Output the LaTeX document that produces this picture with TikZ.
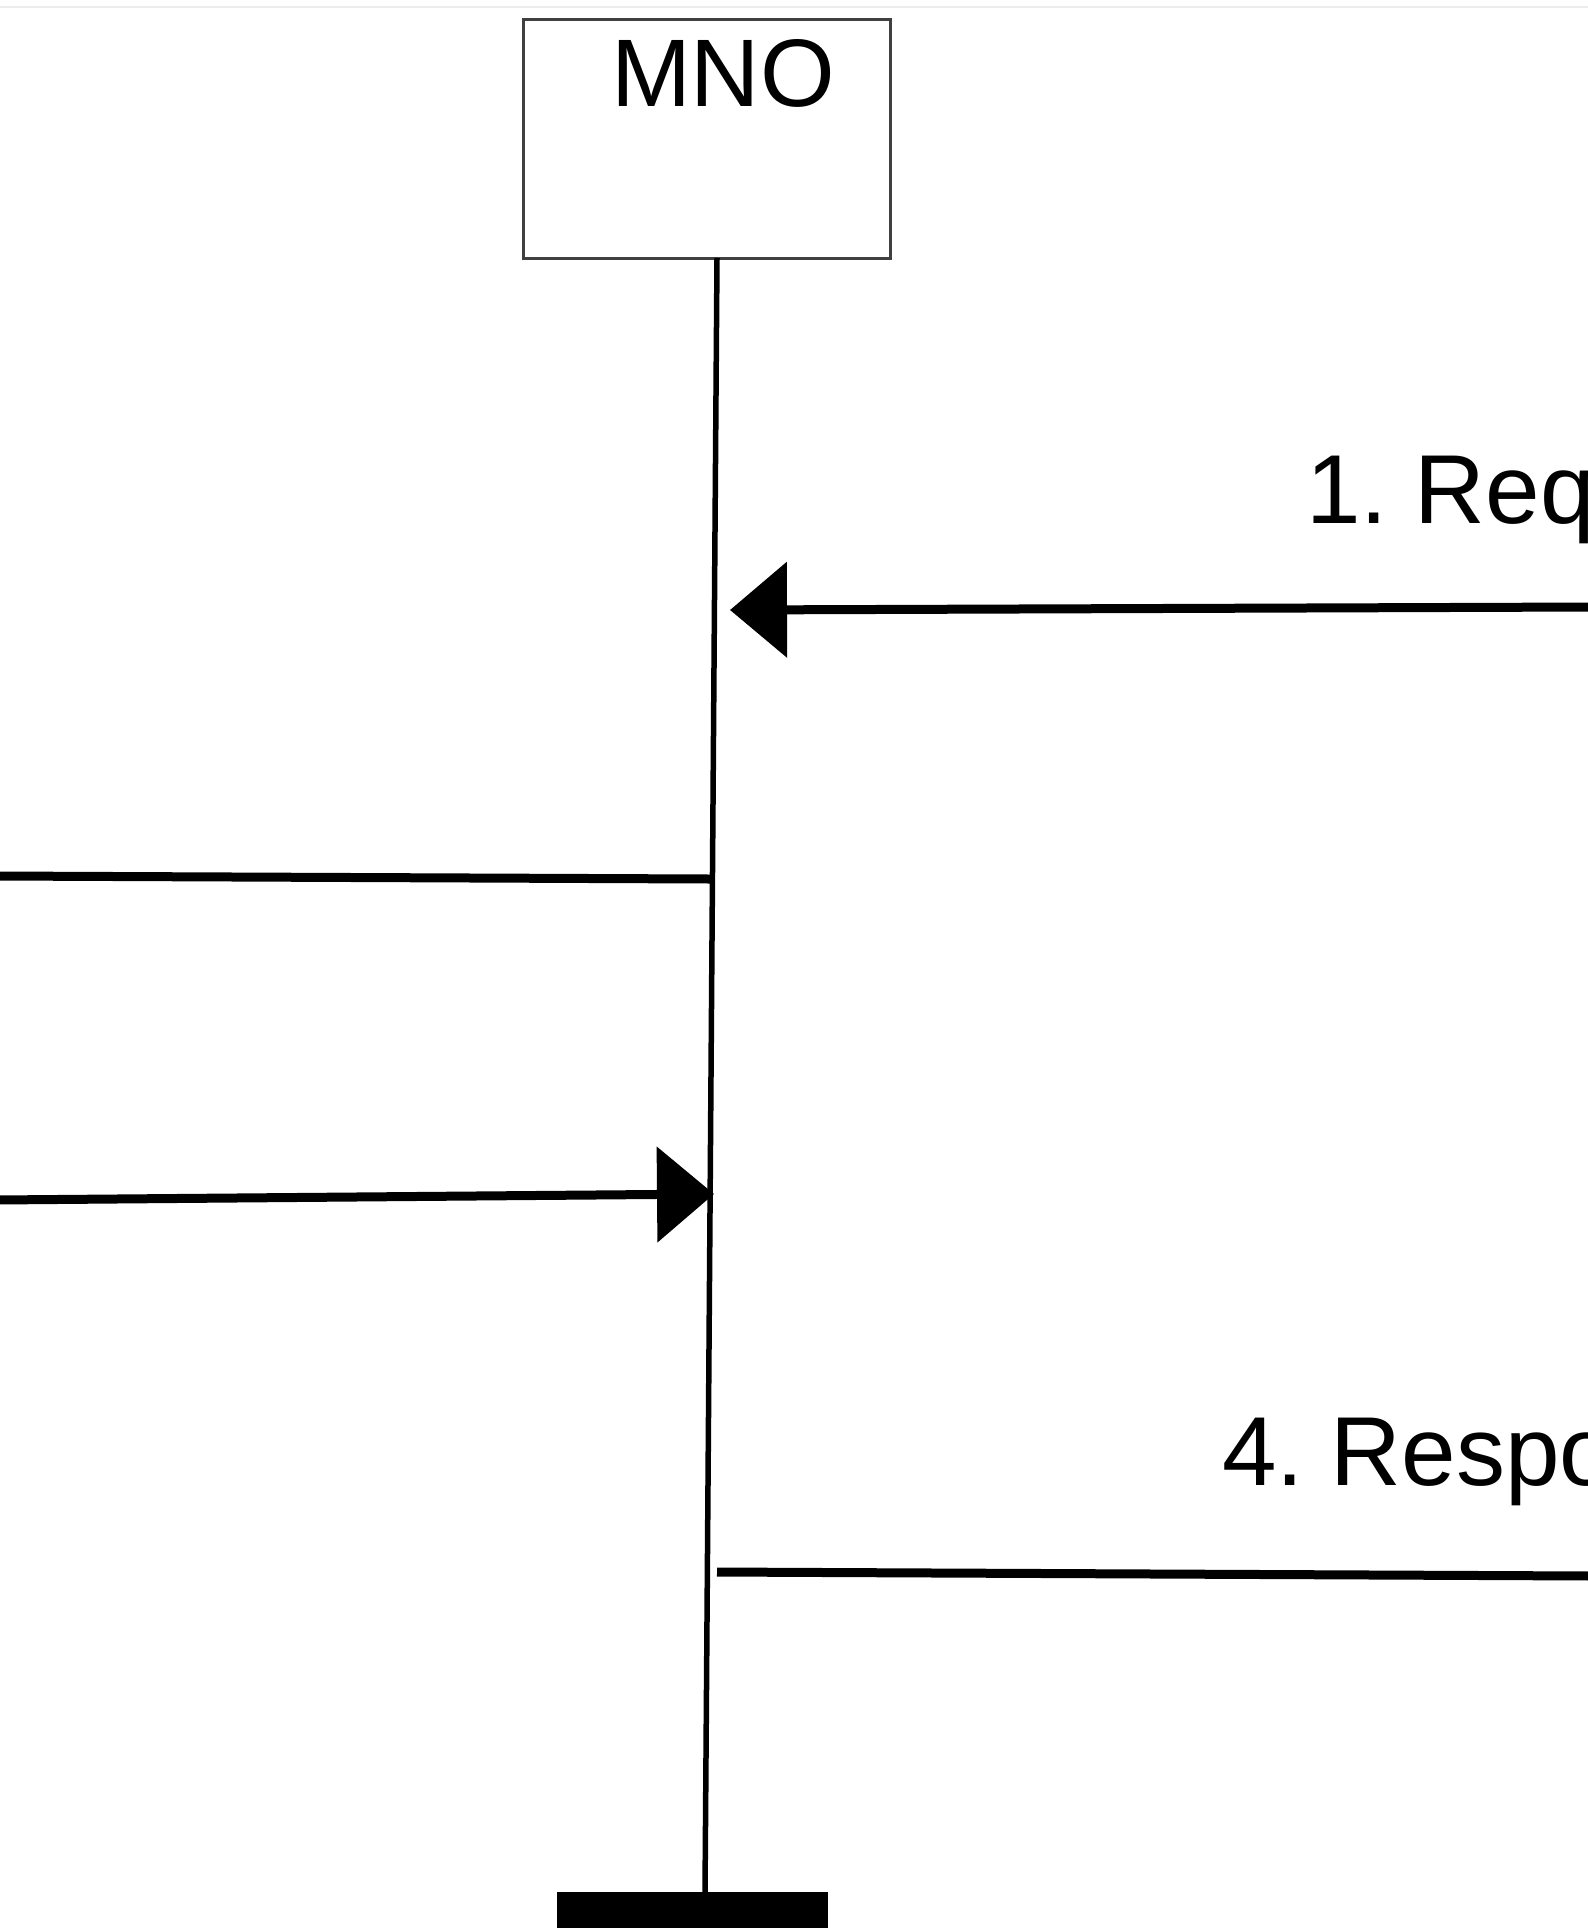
\documentclass[tikz,border=0pt]{standalone}
\usepackage{fontspec}
\setmainfont{Liberation Sans}
\newfontfamily\lblfont[WordSpace=0.65]{Liberation Sans}
\usetikzlibrary{arrows.meta}
\begin{document}
\begin{tikzpicture}[x=0.5pt,y=-0.5pt,
  msg/.style={line width=4.5pt},
  msgtip/.style={msg,-{Triangle[length=28.5pt,width=47pt]}},
  lifeline/.style={line width=2.75pt},
  lbl/.style={font=\lblfont\fontsize{49}{58}\selectfont, inner sep=0pt, anchor=base west},
  actor/.style={draw=black!75, line width=1.5pt, fill=white, inner sep=0pt,
    minimum width=183.5pt, minimum height=119.5pt, anchor=north west},
  endbarstyle/.style={fill=black, inner sep=0pt, minimum width=135.5pt,
    minimum height=18pt, anchor=north west}
]
\path[use as bounding box, clip] (0,0) rectangle (1588,1932);
\fill[white] (0,0) rectangle (1588,1932);
\draw[black!7, line width=1pt] (0,7) -- (1588,7);

% actor box and label
\node[actor] (mno) at (522,18) {};
\node[font=\fontsize{48}{58}\selectfont, inner sep=0pt, anchor=base] (mnotext) at (723,107) {MNO};

% end bar
\node[endbarstyle] (endbar) at (557,1892) {};

% lifeline
\coordinate (lltop) at (717,258);
\coordinate (llbot) at (705,1893);
\draw[lifeline] (lltop) -- (llbot);

% message 1
\coordinate (m1from) at (1592,607);
\coordinate (m1to) at (730,610);
\draw[msgtip] (m1from) -- (m1to);
\node[lbl] (l1) at (1306,523) {1. Req};

% message 2
\coordinate (m2from) at (710,879);
\coordinate (m2to) at (-4,876);
\draw[msg] (m2from) -- (m2to);

% message 3
\coordinate (m3from) at (-4,1200);
\coordinate (m3to) at (714,1194);
\draw[msgtip] (m3from) -- (m3to);

% message 4
\coordinate (m4from) at (717,1572);
\coordinate (m4to) at (1592,1576);
\draw[msg] (m4from) -- (m4to);
\node[lbl] (l4) at (1222,1485) {4. Respo};
\end{tikzpicture}
\end{document}
